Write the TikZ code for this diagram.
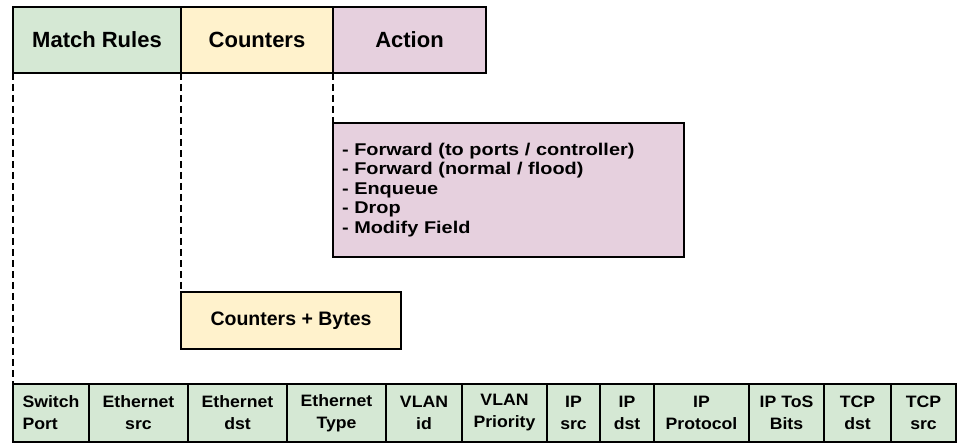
\documentclass[tikz,border=0pt]{standalone}
\usepackage{fontspec}
\setmainfont{Liberation Sans}
\newfontfamily\actfont{Liberation Sans}[FakeStretch=1.17]
\newfontfamily\cellfont{Liberation Sans}[FakeStretch=1.07]
\usetikzlibrary{shadows}
\definecolor{mgreen}{HTML}{D5E8D4}
\definecolor{myellow}{HTML}{FFF2CC}
\definecolor{mpink}{HTML}{E6D0DE}
\begin{document}
\begin{tikzpicture}[x=1pt,y=-1pt,
  box/.style={draw=black, line width=1.4pt, rectangle, inner sep=0pt, outer sep=0pt,
    anchor=north west, drop shadow={shadow xshift=1.2pt, shadow yshift=-1.2pt, fill=black!35}},
  toplabel/.style={box, minimum height=66pt, font=\fontsize{22}{24}\selectfont\bfseries},
  cell/.style={box, fill=mgreen, minimum height=58pt, align=center,
    font=\cellfont\fontsize{16.5}{22}\selectfont\bfseries},
  link/.style={draw=black, line width=1.4pt, dash pattern=on 7pt off 4pt}
]
\useasboundingbox (0,0) rectangle (959,443);

% top boxes
\node[toplabel, fill=mgreen, minimum width=168pt] (mr) at (13,7) {Match Rules};
\node[toplabel, fill=myellow, minimum width=152pt] (ct) at (181,7) {Counters};
\node[toplabel, fill=mpink, minimum width=153pt] (ac) at (333,7) {Action};

% action details
\node[box, fill=mpink, minimum height=134pt, text width=333pt, inner xsep=9pt,
  align=left, font=\actfont\fontsize{17}{19.4}\selectfont\bfseries] (act) at (333,123)
  {- Forward (to ports / controller)\\
   - Forward (normal / flood)\\
   - Enqueue\\
   - Drop\\
   - Modify Field};

% counters detail
\node[box, fill=myellow, minimum width=220pt, minimum height=57pt,
  font=\fontsize{19.5}{22}\selectfont\bfseries] (cb) at (181,292) {Counters + Bytes};

% match fields row
\node[cell, minimum width=76pt, align=left] (c1) at (13,384) {Switch\\Port};
\node[cell, minimum width=99pt] (c2) at (89,384) {Ethernet\\src};
\node[cell, minimum width=99pt] (c3) at (188,384) {Ethernet\\dst};
\node[cell, minimum width=99pt] (c4) at (287,384) {Ethernet\\Type};
\node[cell, minimum width=76pt] (c5) at (386,384) {VLAN\\id};
\node[cell, minimum width=85pt] (c6) at (462,384) {VLAN\\Priority};
\node[cell, minimum width=53pt] (c7) at (547,384) {IP\\src};
\node[cell, minimum width=54pt] (c8) at (600,384) {IP\\dst};
\node[cell, minimum width=95pt] (c9) at (654,384) {IP\\Protocol};
\node[cell, minimum width=75pt] (c10) at (749,384) {IP ToS\\Bits};
\node[cell, minimum width=67pt] (c11) at (824,384) {TCP\\dst};
\node[cell, minimum width=65pt] (c12) at (891,384) {TCP\\src};

% dashed connectors
\draw[link] (mr.south west) -- (c1.north west);
\draw[link] (mr.south east) -- (cb.north west);
\draw[link] (ct.south east) -- (act.north west);
\end{tikzpicture}
\end{document}
